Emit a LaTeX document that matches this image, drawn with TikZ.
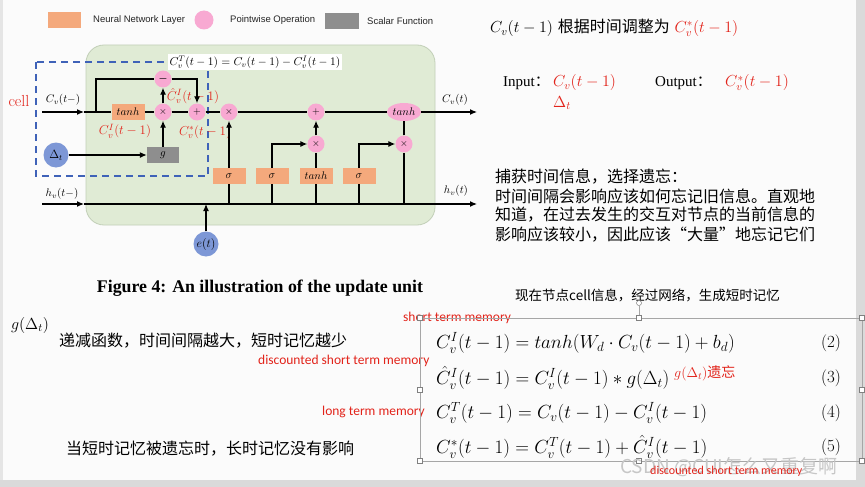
\RequirePackage{fix-cm}
\documentclass[tikz,border=0pt]{standalone}
\usepackage{amsmath}
\usepackage{fontspec}
\newfontfamily\cjk{Noto Sans CJK SC}
\newfontfamily\arialf{Liberation Sans}
\newfontfamily\calf{Carlito}
\newfontfamily\tnrf{Liberation Serif}
\usetikzlibrary{arrows.meta,shapes.geometric}
\definecolor{nnorange}{HTML}{F4A97C}
\definecolor{pwpink}{HTML}{F8A9D2}
\definecolor{scgray}{HTML}{8E8E8E}
\definecolor{inblue}{HTML}{7D97D6}
\definecolor{cellgreen}{HTML}{E0EBD5}
\definecolor{cellborder}{HTML}{C2CFB8}
\definecolor{dashblue}{HTML}{3F62B8}
\definecolor{annred}{HTML}{E2231A}
\definecolor{bggray}{HTML}{FBFBFB}
\definecolor{edgegray}{HTML}{DADADA}
\begin{document}
\begin{tikzpicture}[x=1pt,y=-1pt,
  nn/.style={fill=nnorange, minimum width=33pt, minimum height=16pt, inner sep=0pt, font=\fontsize{11}{12}\selectfont},
  pw/.style={circle, fill=pwpink, minimum size=17pt, inner sep=0pt, font=\fontsize{10}{10}\selectfont},
  inp/.style={circle, fill=inblue, minimum size=25pt, inner sep=0pt, font=\fontsize{12}{12}\selectfont},
  ln/.style={line width=1.2pt},
  arr/.style={ln, -{Latex[length=7pt,width=6pt]}},
  redlab/.style={text=annred, inner sep=0pt, font=\fontsize{13}{14}\selectfont},
  lab/.style={inner sep=0pt, font=\fontsize{11}{12}\selectfont},
  cjktxt/.style={inner sep=0pt, anchor=west, font=\cjk\fontsize{16}{19}\selectfont},
  engred/.style={inner sep=0pt, anchor=west, text=annred, font=\calf\fontsize{13.5}{15}\selectfont},
  legtxt/.style={inner sep=0pt, anchor=west, text=black!85, font=\arialf\fontsize{9.5}{10}\selectfont},
  handle/.style={draw=gray, fill=white, line width=0.5pt, minimum size=5pt, inner sep=0pt},
  eqn/.style={anchor=west, inner sep=0pt, font=\fontsize{19}{22}\selectfont},
  eqnum/.style={inner sep=0pt, font=\fontsize{17}{20}\selectfont},
]
% page
\fill[bggray] (0,0) rectangle (865,487);
\fill[edgegray] (856,0) rectangle (865,487);
\fill[edgegray] (0,480) rectangle (865,487);
\fill[edgegray!70] (0,0) rectangle (3,480);
\useasboundingbox (0,0) rectangle (865,487);

% legend
\node[fill=nnorange, minimum width=33pt, minimum height=16pt, inner sep=0pt] (legnn) at (64,20) {};
\node[legtxt] (legnnt) at (93,20) {Neural Network Layer};
\node[circle, fill=pwpink, minimum size=19pt, inner sep=0pt] (legpw) at (204,20) {};
\node[legtxt] (legpwt) at (230,20) {Pointwise Operation};
\node[fill=scgray, minimum width=34pt, minimum height=16pt, inner sep=0pt] (legsc) at (342,21) {};
\node[legtxt] (legsct) at (367,21) {Scalar Function};

% cell background
\draw[fill=cellgreen, draw=cellborder, line width=0.8pt, rounded corners=18pt] (86,45) rectangle (435,225);
\draw[dashblue, dash pattern=on 7pt off 5pt, line width=1.3pt] (36,62) rectangle (208,176);

% labels
\node[fill=white, inner sep=2pt, font=\fontsize{11.5}{12}\selectfont] (fT) at (255,62) {$C_v^T(t-1)=C_v(t-1)-C_v^I(t-1)$};
\node[text=annred, inner sep=0pt, font=\fontsize{16}{16}\selectfont] (cell) at (19,101) {cell};
\node[lab] (cinl) at (63,100) {$C_v(t-)$};
\node[lab] (hinl) at (62,194) {$h_v(t-)$};
\node[lab] (coutl) at (455,100) {$C_v(t)$};
\node[lab] (houtl) at (456,191) {$h_v(t)$};
\node[redlab] (lhat) at (193,96) {$\hat{C}_v^I(t-1)$};
\node[redlab] (lci) at (125,131) {$C_v^I(t-1)$};
\node[redlab] (lcs) at (205,132) {$C_v^*(t-1)$};

% diagram nodes
\node[nn] (tanhA) at (128,112) {$tanh$};
\node[pw] (mulA) at (163,112) {$\times$};
\node[pw] (minus) at (163,79) {$\boldsymbol{-}$};
\node[pw] (plusA) at (197,112) {$+$};
\node[pw] (mulB) at (229,112) {$\times$};
\node[pw] (plusB) at (316,112) {$+$};
\node[ellipse, fill=pwpink, minimum width=34pt, minimum height=18pt, inner sep=0pt, font=\fontsize{11}{12}\selectfont] (tanhB) at (404,112) {$tanh$};
\node[pw] (mulC) at (316,144) {$\times$};
\node[pw] (mulD) at (404,144) {$\times$};
\node[nn] (sig1) at (229,176) {$\sigma$};
\node[nn] (sig2) at (272,176) {$\sigma$};
\node[nn] (tanhC) at (316,176) {$tanh$};
\node[nn] (sig4) at (359,176) {$\sigma$};
\node[fill=scgray, minimum width=32pt, minimum height=16pt, inner sep=0pt, font=\fontsize{11}{12}\selectfont] (gbox) at (163,155) {$g$};
\node[inp] (delta) at (56,155) {$\Delta_t$};
\node[inp] (et) at (206,244) {$e(t)$};

% coordinates
\coordinate (cin) at (42,112);
\coordinate (carr) at (84,112);
\coordinate (cloop) at (96,112);
\coordinate (cout) at (477,112);
\coordinate (hin) at (42,204);
\coordinate (harr) at (84,204);
\coordinate (hout) at (477,204);
\coordinate (je) at (206,204);
\coordinate (j1) at (229,204);
\coordinate (j2) at (272,204);
\coordinate (j3) at (316,204);
\coordinate (j4) at (359,204);
\coordinate (j5) at (404,204);
\coordinate (lpA) at (96,79);
\coordinate (lpB) at (197,79);

% connectors
\draw[arr] (cin) -- (carr);
\draw[ln] (carr) -- (tanhA.west);
\draw[ln] (tanhA.east) -- (mulA.west);
\draw[ln] (mulA.east) -- (plusA.west);
\draw[ln] (plusA.east) -- (mulB.west);
\draw[ln] (mulB.east) -- (plusB.west);
\draw[ln] (plusB.east) -- (tanhB.west);
\draw[arr] (tanhB.east) -- (cout);
\draw[ln] (cloop) -- (lpA) -- (minus.west);
\draw[arr] (minus.east) -- (lpB) -- (plusA.north);
\draw[arr] (mulA.north) -- (minus.south);
\draw[arr] (gbox.north) -- (mulA.south);
\draw[arr] (delta.east) -- (gbox.west);
\draw[arr] (hin) -- (harr);
\draw[arr] (harr) -- (hout);
\draw[arr] (et.north) -- (je);
\draw[ln] (j1) -- (sig1.south);
\draw[arr] (sig1.north) -- (mulB.south);
\draw[ln] (j2) -- (sig2.south);
\draw[arr] (sig2.north) |- (mulC.west);
\draw[ln] (j3) -- (tanhC.south);
\draw[ln] (tanhC.north) -- (mulC.south);
\draw[arr] (mulC.north) -- (plusB.south);
\draw[ln] (j4) -- (sig4.south);
\draw[arr] (sig4.north) |- (mulD.west);
\draw[ln] (j5) -- (mulD.south);
\draw[ln] (mulD.north) -- (tanhB.south);

% caption
\node[inner sep=0pt, font=\tnrf\bfseries\fontsize{17.8}{19}\selectfont] (cap) at (260,288) {Figure 4: An illustration of the update unit};

% right-side notes
\node[inner sep=0pt, anchor=west, font=\fontsize{16}{18}\selectfont] (t1) at (490,28) {$C_v(t-1)$ {\cjk 根据时间调整为} {\color{annred}$C_v^*(t-1)$}};
\node[inner sep=0pt, anchor=west, font=\tnrf\fontsize{15}{17}\selectfont] (inw) at (503,83) {Input{\cjk ：}};
\node[inner sep=0pt, anchor=west, text=annred, font=\fontsize{16}{17}\selectfont] (inv) at (553,83) {$C_v(t-1)$};
\node[inner sep=0pt, text=annred, font=\fontsize{16}{17}\selectfont] (ind) at (562,103) {$\Delta_t$};
\node[inner sep=0pt, anchor=west, font=\tnrf\fontsize{15}{17}\selectfont] (outw) at (655,83) {Output{\cjk ：}};
\node[inner sep=0pt, anchor=west, text=annred, font=\fontsize{16}{17}\selectfont] (outv) at (725,83) {$C_v^*(t-1)$};

\node[cjktxt] (p1) at (495,177) {捕获时间信息，选择遗忘：};
\node[cjktxt] (p2) at (495,196) {时间间隔会影响应该如何忘记旧信息。直观地};
\node[cjktxt] (p3) at (495,215) {知道，在过去发生的交互对节点的当前信息的};
\node[cjktxt] (p4) at (495,235) {影响应该较小，因此应该“大量”地忘记它们};

% bottom-left notes
\node[inner sep=0pt, font=\fontsize{16}{17}\selectfont] (gd) at (30,325) {$g(\Delta_t)$};
\node[cjktxt] (q1) at (59,341) {递减函数，时间间隔越大，短时记忆越少};
\node[cjktxt] (q2) at (66,449) {当短时记忆被遗忘时，长时记忆没有影响};
\node[engred] (dsm) at (258,361) {discounted short term memory};
\node[engred] (ltm) at (322,412) {long term memory};
\node[engred] (stm) at (403,318) {short term memory};

% equations
\node[inner sep=0pt, anchor=west, font=\cjk\fontsize{13.5}{15}\selectfont] (r1) at (515,295) {现在节点cell信息，经过网络，生成短时记忆};
\draw[gray!70, line width=0.6pt] (420,318) rectangle (862,461);
\draw[gray!70, line width=0.6pt] (639,318) -- (639,306);
\node[circle, draw=gray, fill=white, minimum size=5pt, inner sep=0pt, line width=0.5pt] (rot) at (639,303) {};
\foreach \hx/\hy [count=\i] in {420/318,639/318,862/318,420/390,862/390,420/461,639/461,862/461}
  \node[handle] (h\i) at (\hx,\hy) {};

\node[eqn] (eq2) at (436,343) {$C_v^I(t-1)=tanh(W_d\cdot C_v(t-1)+b_d)$};
\node[eqn] (eq3) at (436,378) {$\hat{C}_v^I(t-1)=C_v^I(t-1)\ast g(\Delta_t)$};
\node[eqn] (eq4) at (436,413) {$C_v^T(t-1)=C_v(t-1)-C_v^I(t-1)$};
\node[eqn] (eq5) at (436,447) {$C_v^*(t-1)=C_v^T(t-1)+\hat{C}_v^I(t-1)$};
\node[eqnum] (n2) at (831,343) {(2)};
\node[eqnum] (n3) at (831,378) {(3)};
\node[eqnum] (n4) at (831,413) {(4)};
\node[eqnum] (n5) at (831,447) {(5)};
\node[inner sep=0pt, anchor=west, text=annred, font=\fontsize{14}{15}\selectfont] (gforget) at (674,373) {$g(\Delta_t)${\cjk 遗忘}};

% watermark
\node[inner sep=0pt, anchor=west, text=gray!45, font=\cjk\fontsize{19}{20}\selectfont] (wm) at (620,467) {CSDN @CUI怎么又重复啊};
\node[inner sep=0pt, anchor=west, text=annred, font=\calf\fontsize{12}{13}\selectfont] (dsm2) at (650,471) {discounted short term memory};
\end{tikzpicture}
\end{document}
